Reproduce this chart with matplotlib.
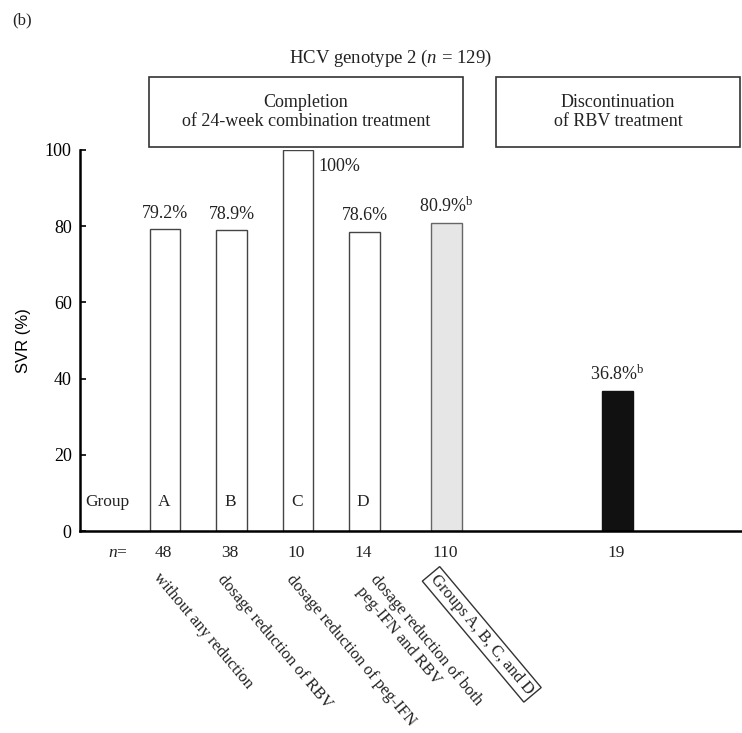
import matplotlib as mpl
mpl.use('Agg')
import matplotlib.pyplot as plt
from matplotlib.patches import Rectangle

mpl.rcParams.update({
    'font.family': ['Liberation Serif', 'DejaVu Serif'],
    'mathtext.fontset': 'custom',
    'mathtext.rm': 'Liberation Serif',
    'mathtext.it': 'Liberation Serif:italic',
})

# data
groups = ['A', 'B', 'C', 'D', '', '']
n_values = ['48', '38', '10', '14', '110', '19']
svr = [79.2, 78.9, 100.0, 78.6, 80.9, 36.8]
svr_labels = ['79.2%', '78.9%', '100%', '78.6%', r'80.9%$^{\rm b}$', r'36.8%$^{\rm b}$']
descriptions = ['without any reduction', 'dosage reduction of RBV',
                'dosage reduction of peg-IFN',
                'dosage reduction of both\npeg-IFN and RBV',
                'Groups A, B, C, and D']
positions = [0, 1, 2, 3, 4.23, 6.81]
colors = ['white', 'white', 'white', 'white', '#e6e6e6', '#111111']
edges = ['#444444', '#444444', '#444444', '#444444', '#666666', '#111111']

W, H = 742, 733
fig = plt.figure(figsize=(W / 100, H / 100), dpi=100)
ax = fig.add_axes([80 / W, 1 - 531 / H, (W - 80) / W, (531 - 150) / H])

ax.bar(positions, svr, width=0.46, color=colors, edgecolor=edges, linewidth=1.0)
ax.set_xlim(-1.28, 8.68)
ax.set_ylim(0, 100)
ax.set_yticks([0, 20, 40, 60, 80, 100])
ax.set_xticks([])
ax.tick_params(axis='y', direction='in', length=4, width=1.2, labelsize=13, pad=6)
for s in ['top', 'right']:
    ax.spines[s].set_visible(False)
ax.spines['left'].set_linewidth(1.8)
ax.spines['bottom'].set_linewidth(1.8)
ax.set_ylabel('SVR (%)', family='Liberation Sans', fontsize=12, labelpad=10)

tc = '#222222'

# value labels
for i, (p, v, lab) in enumerate(zip(positions, svr, svr_labels)):
    if i == 2:
        ax.annotate(lab, (p + 0.23, v), xytext=(4, -12), textcoords='offset points',
                    ha='left', va='center', fontsize=13, color=tc)
    else:
        ax.annotate(lab, (p, v), xytext=(0, 8), textcoords='offset points',
                    ha='center', va='baseline', fontsize=13, color=tc)

# group letters and n row
ax.annotate('Group', (-1.28, 0), xytext=(4, 21), textcoords='offset points',
            ha='left', va='center', fontsize=12.5, color=tc)
for p, g in zip(positions, groups):
    if g:
        ax.annotate(g, (p, 0), xytext=(-1, 21), textcoords='offset points',
                    ha='center', va='center', fontsize=12.5, color=tc)
ax.annotate('$n$=', (-1.28, 0), xytext=(20, -16), textcoords='offset points',
            ha='left', va='center', fontsize=12.5, color=tc)
for p, nv in zip(positions, n_values):
    ax.annotate(nv, (p, 0), xytext=(-1, -16), textcoords='offset points',
                ha='center', va='center', fontsize=12.5, color=tc)

# rotated descriptions
offsets = [(-2, -28), (-4, -29), (-2, -29), (11, -29), (-5, -29)]
for i, (p, d, off) in enumerate(zip(positions, descriptions, offsets)):
    kw = {}
    if i == 4:
        kw['bbox'] = dict(boxstyle='square,pad=0.2', fc='white', ec='#333333', lw=1.0)
    ax.annotate(d, (p, 0), xytext=off, textcoords='offset points',
                ha='left', va='top', rotation=-50, rotation_mode='anchor',
                fontsize=12, color=tc, linespacing=1.25, annotation_clip=False, **kw)

# header texts and boxes
def fx(x):
    return x / W

def fy(y):
    return 1 - y / H

fig.text(fx(12), fy(20), '(b)', fontsize=12, color=tc, va='center')
fig.text(fx(390), fy(58), 'HCV genotype 2 ($n$ = 129)', fontsize=13.5, color=tc,
         ha='center', va='center')
fig.patches.append(Rectangle((fx(149), fy(147)), fx(463) - fx(149), fy(77) - fy(147),
                             transform=fig.transFigure, fill=False, ec='#333333', lw=1.2))
fig.patches.append(Rectangle((fx(496), fy(147)), fx(740) - fx(496), fy(77) - fy(147),
                             transform=fig.transFigure, fill=False, ec='#333333', lw=1.2))
fig.text(fx(306), fy(112), 'Completion\nof 24-week combination treatment', fontsize=13,
         color=tc, ha='center', va='center', linespacing=1.2)
fig.text(fx(618), fy(112), 'Discontinuation\nof RBV treatment', fontsize=13,
         color=tc, ha='center', va='center', linespacing=1.2)

fig.savefig('out.png', dpi=100)
